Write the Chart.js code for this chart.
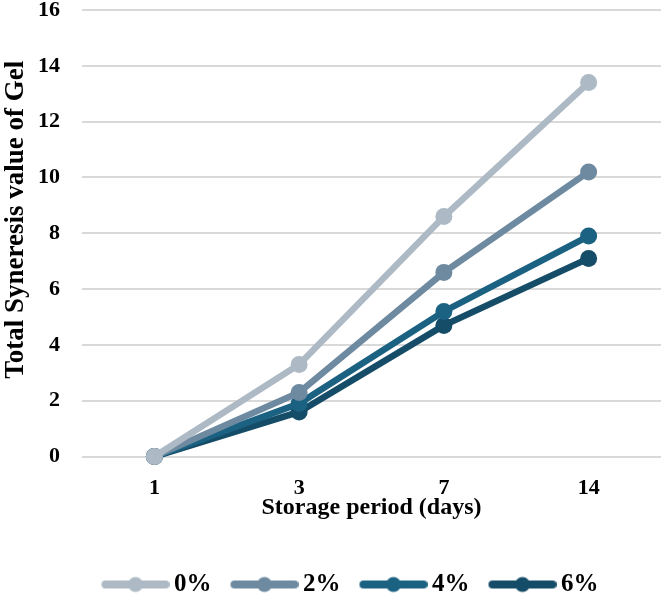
<!DOCTYPE html>
<html>
<head>
<meta charset="utf-8">
<script src="https://cdn.jsdelivr.net/npm/chart.js@4"></script>
<style>
  html, body { margin: 0; padding: 0; background: #fff; }
  #wrap { width: 664px; height: 600px; }
</style>
</head>
<body>
<div id="wrap"><canvas id="chart"></canvas></div>
<script>
const days = ['1', '3', '7', '14']
const seriesNames = ['0%', '2%', '4%', '6%']
const v0 = [0, 3.3, 8.6, 13.4]
const v2 = [0, 2.3, 6.6, 10.2]
const v4 = [0, 1.9, 5.2, 7.9]
const v6 = [0, 1.6, 4.7, 7.1]
const colors = ['#adb9c4', '#6e8aa0', '#1b6182', '#154c67']

// legend marker: short line with a dot, drawn on the right part of a wider canvas
// so the label text sits close to it
const BOX_W = 75
function legendMark(color) {
  const c = document.createElement('canvas')
  c.width = BOX_W + 16
  c.height = 20
  const ctx = c.getContext('2d')
  const x1 = c.width - 4, x0 = x1 - 60
  ctx.strokeStyle = color
  ctx.lineWidth = 8
  ctx.lineCap = 'round'
  ctx.beginPath()
  ctx.moveTo(x0, 10)
  ctx.lineTo(x1, 10)
  ctx.stroke()
  ctx.fillStyle = color
  ctx.beginPath()
  ctx.arc((x0 + x1) / 2, 10, 7.5, 0, Math.PI * 2)
  ctx.fill()
  return c
}

const font = 'Liberation Serif'
const allValues = [v0, v2, v4, v6]

new Chart(document.getElementById('chart'), {
  type: 'line',
  data: {
    labels: days,
    datasets: allValues.map((vals, i) => ({
      label: seriesNames[i],
      data: vals,
      borderColor: colors[i],
      backgroundColor: colors[i],
      borderWidth: 6.5,
      pointRadius: 8.5,
      pointHoverRadius: 8.5,
      pointBorderWidth: 0,
      fill: false,
      tension: 0,
      clip: false,
    }))
  },
  options: {
    responsive: true,
    maintainAspectRatio: false,
    animation: false,
    layout: { autoPadding: false, padding: { top: 0, right: 3, left: 24, bottom: -7 } },
    plugins: {
      tooltip: { enabled: false },
      legend: {
        position: 'bottom',
        labels: {
          usePointStyle: true,
          pointStyleWidth: BOX_W,
          color: '#000',
          font: { family: font, size: 25, weight: 'bold', lineHeight: 1 },
          padding: 4,
          generateLabels: (chart) => chart.data.datasets.map((ds, i) => ({
            text: ds.label,
            pointStyle: legendMark(ds.borderColor),
            fillStyle: ds.borderColor,
            strokeStyle: ds.borderColor,
            lineWidth: 0,
            datasetIndex: i,
          }))
        }
      }
    },
    scales: {
      x: {
        offset: true,
        grid: { display: false },
        border: { display: false },
        ticks: { color: '#000', font: { family: font, size: 22, weight: 'bold' }, padding: 11 },
        title: {
          display: true,
          text: 'Storage period (days)',
          color: '#000',
          font: { family: font, size: 24, weight: 'bold', lineHeight: 1 },
          padding: { top: -17, bottom: 48 }
        },
        afterFit: (s) => { s.paddingLeft = 0; s.paddingRight = 0 }
      },
      y: {
        min: 0,
        max: 16,
        ticks: { stepSize: 2, color: '#000', font: { family: font, size: 22, weight: 'bold', lineHeight: 1 }, padding: 22 },
        grid: { color: '#d9d9d9', lineWidth: 2, drawTicks: false },
        border: { display: false },
        title: {
          display: true,
          // leading spaces nudge the centred title a little up, as in the original
          text: '    Total Syneresis value of Gel',
          color: '#000',
          font: { family: font, size: 27, weight: 'bold', lineHeight: 1 },
          padding: { top: -21, bottom: -14 }
        },
        // tick padding also pads the top of the axis, keep the top line near the edge
        afterFit: (s) => { s.paddingTop = 10 }
      }
    }
  }
})
</script>
</body>
</html>
